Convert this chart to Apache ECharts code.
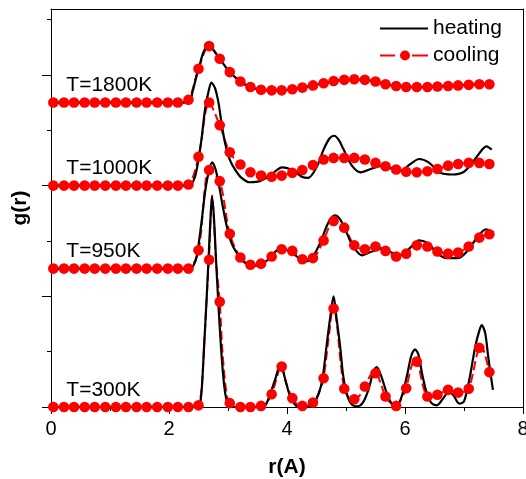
<!DOCTYPE html>
<html>
<head>
<meta charset="utf-8">
<script src="https://cdn.jsdelivr.net/npm/echarts@6/dist/echarts.min.js"></script>
<style>
  html, body { margin: 0; padding: 0; background: #fff; }
  #chart { width: 526px; height: 479px; }
</style>
</head>
<body>
<div id="chart"></div>
<script>
// Radial distribution functions g(r) of the same system on heating and cooling,
// each temperature stacked with its own vertical offset.

const FONT = '"Liberation Sans", Arial, Helvetica, sans-serif';

const temps   = ['T=1800K', 'T=1000K', 'T=950K', 'T=300K'];
const offsets = [5.5, 4.0, 2.5, 0.0];

// r positions of the cooling markers
const rDots = [0.04, 0.22, 0.39, 0.57, 0.74, 0.92, 1.10, 1.27, 1.45, 1.62, 1.80, 1.98, 2.15, 2.33,
  2.50, 2.68, 2.86, 3.03, 3.21, 3.38, 3.56, 3.74, 3.91, 4.09, 4.26, 4.44, 4.62, 4.79, 4.97, 5.14,
  5.32, 5.50, 5.67, 5.85, 6.02, 6.20, 6.38, 6.55, 6.73, 6.90, 7.08, 7.26, 7.43];

// cooling g(r) at rDots
const cool1800 = [0, 0, 0, 0, 0, 0, 0, 0, 0, 0, 0, 0, 0, 0.05,
  0.61, 1.02, 0.79, 0.55, 0.38, 0.28, 0.23, 0.22, 0.22, 0.24, 0.27, 0.31, 0.35, 0.39, 0.41, 0.42,
  0.41, 0.38, 0.33, 0.30, 0.28, 0.28, 0.28, 0.29, 0.30, 0.31, 0.32, 0.33, 0.33];
const cool1000 = [0, 0, 0, 0, 0, 0, 0, 0, 0, 0, 0, 0, 0, 0.02,
  0.52, 1.50, 1.09, 0.60, 0.38, 0.24, 0.18, 0.16, 0.18, 0.23, 0.28, 0.37, 0.47, 0.50, 0.50, 0.50,
  0.47, 0.41, 0.35, 0.29, 0.25, 0.24, 0.26, 0.30, 0.36, 0.39, 0.41, 0.41, 0.39];
const cool950 = [0, 0, 0, 0, 0, 0, 0, 0, 0, 0, 0, 0, 0, 0,
  0.33, 1.78, 1.58, 0.63, 0.20, 0.07, 0.09, 0.22, 0.35, 0.32, 0.17, 0.19, 0.51, 0.86, 0.74, 0.42,
  0.35, 0.40, 0.32, 0.22, 0.27, 0.42, 0.40, 0.31, 0.27, 0.29, 0.40, 0.56, 0.62];
const cool300 = [0, 0, 0, 0, 0, 0, 0, 0, 0, 0, 0, 0, 0, 0,
  0.03, 2.66, 1.90, 0.07, 0, 0, 0.02, 0.23, 0.73, 0.16, 0.02, 0.08, 0.52, 1.78, 0.33, 0.14,
  0.37, 0.61, 0.19, 0.02, 0.34, 0.82, 0.19, 0.22, 0.31, 0.26, 0.33, 1.07, 0.63];

// full-resolution cooling curve at 300 K, [r, g]
const cool300Line = [[0, 0], [2.3, 0], [2.45, 0], [2.5, 0.03], [2.55, 0.3], [2.6, 1.2], [2.64, 2.0],
  [2.68, 2.75], [2.71, 3.5], [2.73, 3.82], [2.76, 3.4], [2.8, 2.6], [2.86, 1.9], [2.9, 1.1],
  [2.95, 0.45], [3.0, 0.12], [3.05, 0.02], [3.1, 0], [3.58, 0], [3.65, 0.07], [3.74, 0.23],
  [3.82, 0.5], [3.9, 0.76], [3.98, 0.45], [4.09, 0.16], [4.2, 0.03], [4.3, 0.02], [4.44, 0.08],
  [4.55, 0.28], [4.62, 0.52], [4.7, 1.2], [4.79, 1.85], [4.85, 1.45], [4.9, 0.9], [4.97, 0.33],
  [5.05, 0.17], [5.14, 0.14], [5.24, 0.22], [5.32, 0.37], [5.42, 0.58], [5.5, 0.63], [5.58, 0.45],
  [5.67, 0.19], [5.77, 0.06], [5.85, 0.02], [5.94, 0.15], [6.02, 0.34], [6.1, 0.7], [6.17, 0.88],
  [6.24, 0.7], [6.3, 0.4], [6.38, 0.19], [6.46, 0.18], [6.55, 0.22], [6.64, 0.27], [6.73, 0.31],
  [6.82, 0.28], [6.9, 0.26], [7.0, 0.27], [7.08, 0.33], [7.15, 0.6], [7.22, 0.95], [7.28, 1.12],
  [7.34, 1.0], [7.43, 0.63]];

// heating curves, [r, g]
const heat1800 = [[0, 0], [2.2, 0], [2.34, 0], [2.4, 0.2], [2.46, 0.45], [2.52, 0.68], [2.58, 0.9],
  [2.64, 1.01], [2.69, 1.03], [2.76, 0.94], [2.86, 0.79], [3.03, 0.55], [3.21, 0.38], [3.38, 0.28],
  [3.56, 0.23], [3.74, 0.22], [3.91, 0.22], [4.09, 0.24], [4.26, 0.27], [4.44, 0.31], [4.62, 0.35],
  [4.79, 0.39], [4.97, 0.41], [5.14, 0.42], [5.32, 0.41], [5.5, 0.38], [5.67, 0.33], [5.85, 0.30],
  [6.02, 0.28], [6.2, 0.28], [6.38, 0.28], [6.55, 0.29], [6.73, 0.30], [6.9, 0.31], [7.08, 0.32],
  [7.26, 0.33], [7.43, 0.33]];
const heat1000 = [[0, 0], [2.2, 0], [2.35, 0], [2.42, 0.1], [2.47, 0.29], [2.55, 0.83], [2.61, 1.37],
  [2.67, 1.70], [2.72, 1.86], [2.78, 1.76], [2.84, 1.49], [2.89, 1.13], [2.95, 0.77], [3.03, 0.47],
  [3.12, 0.29], [3.23, 0.14], [3.37, 0.06], [3.54, 0.08], [3.71, 0.18], [3.92, 0.33], [4.11, 0.27],
  [4.25, 0.16], [4.36, 0.14], [4.5, 0.33], [4.62, 0.65], [4.72, 0.85], [4.8, 0.90], [4.88, 0.82],
  [4.96, 0.65], [5.1, 0.36], [5.25, 0.24], [5.42, 0.30], [5.58, 0.35], [5.76, 0.31], [5.93, 0.27],
  [6.08, 0.38], [6.24, 0.48], [6.4, 0.42], [6.6, 0.23], [6.8, 0.20], [7.0, 0.25], [7.16, 0.44],
  [7.3, 0.64], [7.38, 0.71], [7.47, 0.65]];
const heat950 = [[0, 0], [2.2, 0], [2.36, 0], [2.42, 0.07], [2.47, 0.22], [2.55, 0.83], [2.61, 1.37],
  [2.67, 1.73], [2.73, 1.92], [2.79, 1.79], [2.85, 1.49], [2.91, 1.13], [2.98, 0.76], [3.06, 0.46],
  [3.15, 0.28], [3.26, 0.13], [3.4, 0.05], [3.54, 0.07], [3.68, 0.16], [3.88, 0.36], [3.99, 0.34],
  [4.14, 0.24], [4.31, 0.13], [4.42, 0.19], [4.56, 0.46], [4.7, 0.83], [4.81, 0.96], [4.9, 0.89],
  [5.01, 0.65], [5.12, 0.40], [5.27, 0.24], [5.44, 0.31], [5.6, 0.36], [5.77, 0.29], [5.94, 0.25],
  [6.08, 0.37], [6.24, 0.51], [6.4, 0.45], [6.54, 0.28], [6.71, 0.19], [6.9, 0.19], [7.05, 0.31],
  [7.22, 0.56], [7.37, 0.71], [7.5, 0.65]];
const heat300 = [[0, 0], [2.3, 0], [2.45, 0], [2.5, 0.02], [2.53, 0.08], [2.56, 0.4], [2.6, 1.2],
  [2.64, 2.0], [2.68, 2.9], [2.71, 3.55], [2.73, 3.8], [2.76, 3.45], [2.8, 2.6], [2.84, 1.8],
  [2.88, 1.1], [2.92, 0.55], [2.96, 0.2], [3.0, 0.05], [3.05, 0], [3.6, 0], [3.66, 0.08],
  [3.72, 0.25], [3.8, 0.5], [3.89, 0.78], [3.97, 0.5], [4.05, 0.2], [4.13, 0.05], [4.2, 0],
  [4.4, 0], [4.46, 0.07], [4.53, 0.22], [4.6, 0.5], [4.67, 1.1], [4.73, 1.6], [4.79, 2.0],
  [4.84, 1.6], [4.9, 1.1], [4.95, 0.58], [5.01, 0.25], [5.08, 0.07], [5.18, 0.01], [5.28, 0.07],
  [5.38, 0.31], [5.46, 0.62], [5.52, 0.72], [5.6, 0.55], [5.69, 0.25], [5.77, 0.07], [5.86, 0.02],
  [5.94, 0.18], [6.03, 0.55], [6.11, 0.94], [6.17, 1.04], [6.23, 0.94], [6.29, 0.6], [6.37, 0.25],
  [6.45, 0.07], [6.54, 0.03], [6.65, 0.16], [6.74, 0.28], [6.82, 0.21], [6.92, 0.06], [7.0, 0.1],
  [7.1, 0.55], [7.19, 1.09], [7.26, 1.38], [7.3, 1.48], [7.36, 1.33], [7.41, 0.91], [7.49, 0.31]];

const xTicks = [0, 2, 4, 6, 8];
const yMajorTicks = [0, 2, 4, 6];

const coolDots  = [cool1800, cool1000, cool950, cool300];
const heatLines = [heat1800, heat1000, heat950, heat300];
const coolLines = [null, null, null, cool300Line];

const RED = '#ff0000';
const shift = (pts, off) => pts.map(p => [p[0], p[1] + off]);

const series = [];
temps.forEach((t, k) => {
  const off = offsets[k];
  const dotPts = rDots.map((r, i) => [r, coolDots[k][i] + off]);
  const redPts = coolLines[k] ? shift(coolLines[k], off) : dotPts;
  series.push({
    name: 'cooling', type: 'line', data: redPts, smooth: 0.3,
    showSymbol: false, symbol: 'circle', z: 2, silent: true,
    lineStyle: { color: RED, width: 2, type: [9, 4] },
    itemStyle: { color: RED }
  });
  series.push({
    name: 'heating', type: 'line', data: shift(heatLines[k], off), smooth: 0.3,
    showSymbol: false, z: 3, silent: true,
    lineStyle: { color: '#000', width: 2.2 },
    itemStyle: { color: '#000' }
  });
  series.push({
    name: 'cooling', type: 'scatter', data: dotPts, symbol: 'circle', symbolSize: 10.6,
    z: 4, silent: true, clip: true,
    itemStyle: { color: RED, borderWidth: 0, opacity: 1 }
  });
});

const chart = echarts.init(document.getElementById('chart'), null, { renderer: 'canvas' });

const frameAxis = {
  show: true, axisLine: { show: true, onZero: false, lineStyle: { color: '#000', width: 1 } },
  axisTick: { show: false }, axisLabel: { show: false }, splitLine: { show: false }
};

chart.setOption({
  animation: false,
  backgroundColor: '#fff',
  textStyle: { fontFamily: FONT },
  grid: { left: 51, right: 3, top: 9, bottom: 72, containLabel: false, outerBoundsMode: 'none' },
  legend: {
    orient: 'vertical', left: 375, top: 13, itemWidth: 48, itemHeight: 14, itemGap: 6,
    selectedMode: false,
    textStyle: { fontSize: 21, color: '#000', fontFamily: FONT },
    itemStyle: { borderWidth: 0 },
    data: [
      { name: 'heating', icon: 'path://M0,0H48V2H0Z' },
      { name: 'cooling', icon: 'path://M0,6H15V8H0Z M32,6H48V8H32Z M20,7A5,5 0 1,0 30,7A5,5 0 1,0 20,7Z' }
    ]
  },
  xAxis: [{
    type: 'value', min: xTicks[0], max: xTicks[xTicks.length - 1], interval: 2,
    name: 'r(A)', nameLocation: 'middle', nameGap: 50,
    nameTextStyle: { fontSize: 21, fontWeight: 'bold', color: '#000', fontFamily: FONT },
    axisLine: { onZero: false, lineStyle: { color: '#000', width: 1 } },
    axisTick: { show: true, length: 7, lineStyle: { color: '#000', width: 1 } },
    minorTick: { show: true, splitNumber: 2, length: 4, lineStyle: { color: '#000', width: 1 } },
    axisLabel: { fontSize: 20, color: '#000', margin: 12, fontFamily: FONT },
    splitLine: { show: false }
  }, Object.assign({ type: 'value', position: 'top', min: 0, max: 8 }, frameAxis)],
  yAxis: [{
    type: 'value', min: 0, max: 7.19, interval: 2,
    name: 'g(r)', nameLocation: 'middle', nameGap: 20,
    nameTextStyle: { fontSize: 21, fontWeight: 'bold', color: '#000', fontFamily: FONT },
    axisLine: { show: true, onZero: false, lineStyle: { color: '#000', width: 1 } },
    axisTick: { show: true, length: 9, customValues: yMajorTicks, lineStyle: { color: '#000', width: 1 } },
    minorTick: { show: true, splitNumber: 2, length: 4, lineStyle: { color: '#000', width: 1 } },
    axisLabel: { show: false },
    splitLine: { show: false }
  }, Object.assign({ type: 'value', position: 'right', min: 0, max: 7.19 }, frameAxis)],
  series: series
});

// temperature captions, anchored in data space just above each baseline
const graphics = temps.map((t, k) => {
  const p = chart.convertToPixel({ xAxisIndex: 0, yAxisIndex: 0 }, [0.26, offsets[k] + 0.31]);
  return {
    type: 'text', x: p[0], y: p[1], silent: true, z: 10,
    style: { text: t, fontSize: 21, fill: '#000', fontFamily: FONT, verticalAlign: 'middle', align: 'left' }
  };
});
chart.setOption({ graphic: graphics });
</script>
</body>
</html>
